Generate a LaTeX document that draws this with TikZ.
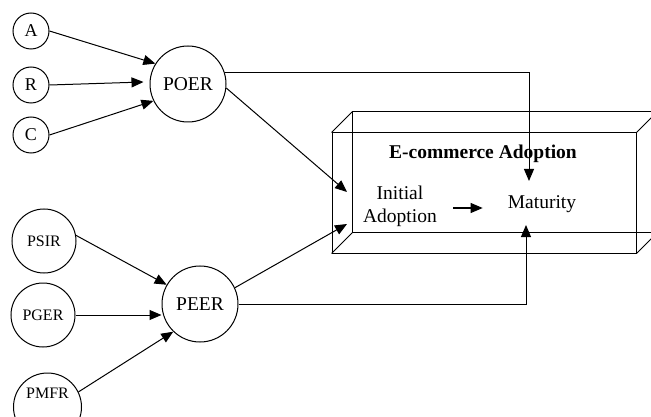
\documentclass[tikz,border=0pt]{standalone}
\usepackage{fontspec}
\setmainfont{Liberation Serif}
\usetikzlibrary{arrows.meta}
\begin{document}
\begin{tikzpicture}[x=1pt,y=-1pt,
  circ/.style={draw, circle, inner sep=0pt, line width=1pt},
  letter/.style={circ, minimum size=36pt, font=\fontsize{18}{20}\selectfont},
  small/.style={circ, minimum size=64pt, font=\fontsize{16}{18}\selectfont},
  big/.style={circ, minimum size=76pt, font=\fontsize{19.5}{22}\selectfont},
  arr/.style={-{Triangle[length=12pt,width=10pt]}, line width=1pt},
  ln/.style={line width=1pt},
  txt/.style={inner sep=0pt, font=\fontsize{19.5}{23}\selectfont}]
\useasboundingbox (0,0) rectangle (651,417);
\clip (0,0) rectangle (651,417);
% left nodes
\node[letter] (A) at (31,31) {A};
\node[letter] (R) at (31,85) {R};
\node[letter] (C) at (31,135) {C};
\node[big] (POER) at (188,84) {POER};
\node[small] (PSIR) at (44,241) {PSIR};
\node[small] (PGER) at (43,315) {PGER};
\node[small, minimum size=68pt] (PMFR) at (47.5,407) {};
\node[inner sep=0pt, font=\fontsize{16}{18}\selectfont] (PMFRt) at (47.5,393) {PMFR};
\node[big] (PEER) at (200,304) {PEER};
% box
\node[draw, line width=1pt, minimum width=304pt, minimum height=120pt, inner sep=0pt] (front) at (484,193) {};
\draw[ln] ([shift={(21,-21)}]front.north west) rectangle ([shift={(21,-21)}]front.south east);
\draw[ln] (front.north west) -- ++(21,-21);
\draw[ln] (front.south west) -- ++(21,-21);
\draw[ln] (front.north east) -- ++(21,-21);
\draw[ln] (front.south east) -- ++(21,-21);
\node[txt, font=\fontsize{19.5}{23}\selectfont\bfseries, anchor=base] (title) at (483,159) {E-commerce Adoption};
\node[txt, align=center] (init) at (400,206) {Initial\\Adoption};
\node[txt, anchor=base] (mat) at (542,208) {Maturity};
\coordinate (m1) at (529,181);
\coordinate (m2) at (526,225);
\coordinate (in1) at (347,192);
\coordinate (in2) at (347,224);
% connectors
\draw[arr] (A.east) -- (POER.148);
\draw[arr] (R.east) -- ([shift={(-6,-2)}]POER.west);
\draw[arr] (C.east) -- (POER.206);
\draw[arr] (POER.17) -| (m1);
\draw[arr] (POER.-6) -- (in1);
\draw[arr] (PSIR.10) -- (PEER.150);
\draw[arr] (PGER.east) -- (PGER.east -| PEER.west);
\draw[arr] (PMFR.26) -- (PEER.226);
\draw[arr] (PEER.25) -- (in2);
\draw[arr] (PEER.east) -| (m2);
\draw[arr, shorten <=16pt, shorten >=25pt] (init.east |- mat.base west) -- (mat.base west);
\end{tikzpicture}
\end{document}
